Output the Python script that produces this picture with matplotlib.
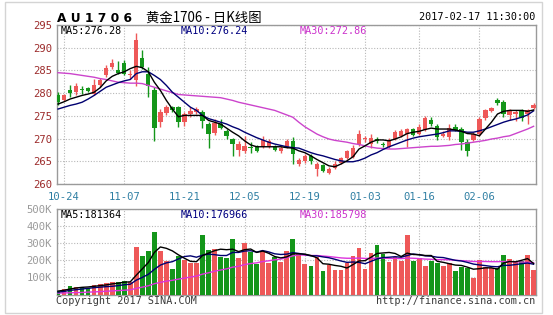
import numpy as np
import pandas as pd
import matplotlib
matplotlib.use("Agg")
import matplotlib.pyplot as plt
from matplotlib.patches import Rectangle

# trading days of AU1706 (Spring Festival + New Year closed)
holidays = ["2017-01-02", "2017-01-27", "2017-01-30", "2017-01-31", "2017-02-01", "2017-02-02"]
days = pd.bdate_range("2016-10-21", "2017-02-17")
days = days[~days.isin(pd.to_datetime(holidays))]
day_labels = [d.strftime("%m-%d") for d in days]

tick_dates = ["10-24", "11-07", "11-21", "12-05", "12-19", "01-03", "01-16", "02-06"]

opens = [279.5, 278.5, 280.7, 280.2, 281.0, 281.1, 279.8, 281.7, 283.9, 285.8,
         285.0, 286.6, 283.9, 283.0, 287.8, 284.3, 280.7, 273.6, 275.6, 276.9,
         276.9, 273.6, 275.3, 275.8, 275.8, 273.3, 271.2, 273.3, 271.6, 269.9,
         267.5, 267.3, 268.1, 268.3, 268.2, 268.4, 268.2, 267.3, 268.2, 269.4,
         264.5, 265.0, 266.2, 263.4, 264.2, 262.5, 263.6, 264.7, 265.7, 266.0,
         268.9, 269.9, 268.9, 270.0, 268.8, 268.2, 269.9, 270.6, 271.1, 272.1,
         271.1, 271.9, 274.1, 272.8, 270.6, 270.4, 272.6, 272.1, 269.2, 269.7,
         271.0, 274.5, 276.0, 278.5, 278.0, 275.1, 275.4, 276.3, 275.4, 276.8]
highs = [280.3, 279.9, 281.7, 282.2, 281.5, 281.4, 283.2, 283.4, 286.1, 287.6,
         287.1, 287.2, 285.0, 293.2, 289.5, 285.8, 281.3, 276.5, 277.4, 277.1,
         277.1, 275.8, 276.9, 276.9, 276.2, 273.6, 274.4, 274.3, 272.0, 270.2,
         269.5, 270.6, 269.2, 268.5, 270.6, 269.8, 268.6, 268.3, 269.8, 270.3,
         265.7, 266.5, 266.5, 264.8, 264.5, 263.7, 265.0, 266.0, 267.5, 268.6,
         271.9, 270.6, 271.0, 270.3, 269.2, 270.1, 271.9, 272.1, 272.3, 272.4,
         273.2, 274.9, 274.7, 273.2, 271.6, 273.2, 273.1, 272.6, 269.9, 271.4,
         274.7, 276.5, 277.0, 279.0, 278.5, 276.5, 276.2, 276.5, 276.5, 277.8]
lows = [277.3, 278.2, 279.1, 279.7, 279.9, 280.2, 279.5, 281.3, 283.5, 285.4,
        284.3, 284.1, 283.2, 281.5, 285.4, 279.1, 269.5, 272.5, 275.1, 275.8,
        272.6, 272.8, 274.8, 275.5, 272.4, 268.0, 270.8, 272.0, 270.0, 266.2,
        266.2, 266.9, 266.9, 267.0, 267.9, 268.0, 267.2, 266.8, 267.9, 264.4,
        264.0, 264.6, 264.5, 261.8, 262.6, 262.3, 263.3, 264.4, 265.4, 265.8,
        268.3, 269.2, 268.0, 269.0, 268.2, 268.0, 269.7, 270.3, 268.2, 270.5,
        270.8, 271.7, 272.8, 269.7, 270.4, 269.7, 271.7, 267.5, 266.2, 269.5,
        270.6, 274.0, 275.8, 277.3, 274.7, 274.0, 273.8, 273.8, 273.2, 276.5]
closes = [278.0, 279.6, 280.0, 281.5, 280.6, 280.5, 281.8, 283.0, 285.6, 286.6,
          284.4, 284.3, 284.2, 291.7, 285.8, 281.5, 272.4, 275.8, 276.9, 276.3,
          273.6, 275.3, 276.0, 276.4, 273.8, 271.0, 273.4, 272.3, 270.6, 268.8,
          268.7, 268.4, 268.0, 267.2, 269.6, 269.4, 267.5, 268.0, 269.5, 266.6,
          265.2, 266.2, 265.1, 264.5, 262.9, 263.4, 264.5, 265.7, 267.2, 268.0,
          271.0, 270.1, 270.1, 269.4, 268.6, 269.5, 271.4, 271.7, 272.1, 270.8,
          272.6, 274.5, 273.2, 270.3, 271.1, 272.3, 271.9, 269.2, 267.3, 271.0,
          274.3, 276.3, 276.8, 277.8, 275.3, 276.0, 275.9, 274.6, 276.2, 277.5]

ma5 = [277.6, 278.1, 278.7, 279.1, 279.5, 279.8, 280.2, 281.2, 282.7, 283.7,
       284.3, 284.7, 285.4, 285.9, 285.6, 284.7, 282.4, 280.6, 278.4, 276.5,
       274.8, 275.1, 275.1, 275.1, 275.1, 274.0, 273.6, 273.2, 272.3, 271.4,
       270.6, 269.5, 268.6, 268.2, 268.2, 268.2, 268.2, 268.2, 268.0, 267.9,
       267.3, 266.9, 266.2, 265.4, 264.7, 264.0, 263.8, 264.4, 265.1, 266.0,
       267.7, 268.4, 269.2, 269.7, 269.7, 269.5, 269.9, 270.4, 271.1, 271.4,
       271.6, 272.0, 272.3, 272.1, 272.1, 272.1, 271.9, 271.6, 271.1, 271.0,
       270.6, 272.1, 273.6, 275.4, 276.0, 276.2, 276.2, 276.2, 276.0, 276.3]
ma10 = [276.5, 276.9, 277.3, 277.6, 278.0, 278.7, 279.5, 280.4, 281.3, 281.8,
        282.3, 282.7, 283.0, 284.3, 284.7, 284.7, 283.9, 283.0, 281.7, 280.2,
        279.1, 278.0, 276.9, 276.2, 275.1, 274.4, 274.0, 273.6, 273.2, 272.6,
        272.1, 271.4, 270.8, 270.2, 269.7, 269.2, 268.8, 268.5, 268.2, 268.0,
        267.9, 267.4, 266.9, 266.5, 266.2, 265.8, 265.4, 265.1, 264.9, 264.9,
        265.2, 265.7, 266.4, 266.9, 267.6, 268.2, 268.7, 269.2, 269.7, 270.1,
        270.4, 270.6, 270.8, 271.0, 271.3, 271.7, 271.7, 271.6, 271.4, 271.4,
        271.7, 272.1, 272.6, 273.1, 273.6, 274.0, 274.3, 274.7, 275.2, 276.1]
ma30 = [284.5, 284.4, 284.3, 284.1, 283.9, 283.7, 283.5, 283.2, 283.0, 282.7,
        282.4, 282.3, 282.2, 282.2, 282.1, 281.7, 281.3, 280.9, 280.5, 280.1,
        279.7, 279.6, 279.5, 279.4, 279.3, 279.2, 279.1, 279.0, 278.7, 278.4,
        278.0, 277.7, 277.4, 277.1, 276.8, 276.5, 276.2, 275.7, 275.2, 274.7,
        273.6, 272.6, 271.8, 271.0, 270.4, 269.9, 269.6, 269.4, 269.2, 268.9,
        268.7, 268.4, 268.1, 267.9, 267.8, 267.7, 267.7, 267.8, 267.9, 268.0,
        268.1, 268.2, 268.3, 268.3, 268.4, 268.5, 268.7, 268.8, 269.0, 269.2,
        269.4, 269.6, 269.9, 270.1, 270.4, 270.6, 271.1, 271.6, 272.1, 272.7]

# volume, thousands of lots
volume = [22, 30, 52, 42, 42, 40, 54, 60, 68, 74,
          74, 78, 74, 280, 226, 256, 368, 256, 197, 150,
          228, 202, 184, 184, 348, 260, 268, 220, 212, 326,
          212, 300, 250, 180, 254, 186, 218, 188, 255, 322,
          236, 178, 168, 222, 136, 170, 142, 145, 183, 226,
          270, 148, 245, 290, 238, 188, 222, 193, 350, 197,
          212, 168, 197, 183, 168, 183, 135, 158, 154, 95,
          203, 163, 154, 154, 232, 208, 193, 198, 230, 143]
vma5 = [20, 25, 32, 38, 42, 44, 48, 52, 56, 62,
        66, 72, 74, 113, 150, 187, 246, 278, 270, 255,
        232, 212, 194, 192, 228, 242, 256, 265, 262, 265,
        251, 262, 266, 246, 254, 241, 222, 214, 220, 238,
        238, 236, 228, 215, 180, 177, 170, 165, 155, 175,
        196, 198, 218, 240, 243, 246, 240, 222, 242, 234,
        233, 228, 228, 194, 188, 180, 172, 170, 160, 148,
        151, 156, 156, 148, 184, 193, 191, 200, 210, 181]
vma10 = [14, 18, 24, 28, 32, 36, 40, 43, 46, 48,
         52, 57, 60, 84, 100, 118, 147, 172, 185, 192,
         208, 222, 226, 218, 230, 236, 233, 228, 228, 246,
         246, 254, 256, 248, 257, 249, 238, 234, 236, 245,
         240, 234, 226, 226, 220, 215, 206, 196, 188, 190,
         188, 180, 194, 208, 216, 218, 221, 218, 228, 237,
         232, 226, 224, 218, 216, 208, 200, 196, 188, 178,
         173, 169, 164, 162, 170, 171, 175, 180, 184, 177]
vma30 = [8, 9, 10, 11, 12, 14, 15, 17, 19, 21,
         23, 25, 27, 36, 43, 51, 63, 71, 78, 83,
         90, 96, 102, 108, 119, 127, 136, 143, 150, 160,
         165, 175, 181, 185, 193, 197, 203, 207, 215, 226,
         232, 230, 228, 228, 225, 222, 218, 214, 212, 212,
         213, 211, 211, 213, 213, 211, 211, 210, 213, 212,
         210, 207, 206, 204, 204, 203, 200, 198, 196, 193,
         193, 193, 192, 192, 193, 193, 191, 190, 188, 186]

price_ticks = [260, 265, 270, 275, 280, 285, 290, 295]
vol_ticks = [100, 200, 300, 400, 500]

UP = "#ee5858"
DOWN = "#14961a"
GRID = "#b8b8b8"
MONO = "DejaVu Sans Mono"

W, H = 553, 315
fig = plt.figure(figsize=(W / 100, H / 100), dpi=100)


def px_axes(l, t, r, b):
    return fig.add_axes([l / W, 1 - b / H, (r - l) / W, (b - t) / H])


def px_text(x, y, s, **kw):
    kw.setdefault("family", MONO)
    kw.setdefault("va", "center")
    fig.text(x / W, 1 - y / H, s, **kw)


ax = px_axes(57, 25, 536, 184)
axv = px_axes(57, 209, 536, 294.5)

x = np.arange(len(days))
o = np.array(opens)
c = np.array(closes)
up = c >= o
cols = np.where(up, UP, DOWN)

# candles
ax.vlines(x, lows, highs, colors=cols, linewidth=1, zorder=3)
body = np.maximum(np.abs(c - o), 0.15)
ax.bar(x, body, bottom=np.minimum(o, c), width=0.72, color=cols, zorder=4, linewidth=0)

ax.plot(x, ma30, color="#cc44cc", lw=1, zorder=5)
ax.plot(x, ma10, color="#000070", lw=1, zorder=5)
ax.plot(x, ma5, color="black", lw=1, zorder=5)

# volume bars
axv.bar(x, volume, width=0.78, color=cols, linewidth=0, zorder=3)
axv.plot(x, vma30, color="#dd33dd", lw=1, zorder=5)
axv.plot(x, vma10, color="#000070", lw=1, zorder=5)
axv.plot(x, vma5, color="black", lw=1, zorder=5)

tick_pos = [day_labels.index(d) for d in tick_dates]

for a in (ax, axv):
    a.set_xlim(-0.17, 79.4)
    a.set_xticks(tick_pos)
    a.grid(True, color=GRID, linestyle=(0, (1, 1.5)), linewidth=0.8, zorder=0)
    a.tick_params(length=0)
    for s in a.spines.values():
        s.set_color("#9a9a9a")
        s.set_linewidth(1)

ax.set_ylim(260, 295)
ax.set_yticks(price_ticks)
ax.set_yticklabels([str(p) for p in price_ticks], family=MONO, fontsize=7.6, color="#9c2b2b")
ax.set_xticklabels(tick_dates, family=MONO, fontsize=7.6, color="#2f7fa3")
ax.tick_params(axis="x", pad=5.5)
ax.tick_params(axis="y", pad=3.5)

axv.set_ylim(0, 500)
axv.set_yticks(vol_ticks)
axv.set_yticklabels([f"{v}K" for v in vol_ticks], family=MONO, fontsize=7.6, color="#9a9a9a")
axv.set_xticklabels([])
axv.tick_params(axis="y", pad=3.5)

# header
px_text(57, 19, "A U 1 7 0 6", family="DejaVu Sans", fontweight="bold", fontsize=8.8)
px_text(146, 17.5, "黄金1706 - 日K线图", family=["Noto Sans CJK SC", "DejaVu Sans"], fontsize=9.6)
px_text(535, 17.5, "2017-02-17 11:30:00", fontsize=7.3, ha="right")

# MA legends
px_text(61, 31.5, "MA5:276.28", fontsize=7.3, color="black")
px_text(181, 31.5, "MA10:276.24", fontsize=7.3, color="#000080")
px_text(300, 31.5, "MA30:272.86", fontsize=7.3, color="#cc33cc")
px_text(61, 214.5, "MA5:181364", fontsize=7.3, color="black")
px_text(181, 214.5, "MA10:176966", fontsize=7.3, color="#000080")
px_text(300, 214.5, "MA30:185798", fontsize=7.3, color="#cc33cc")

# footer
px_text(56, 300.5, "Copyright 2017 SINA.COM", fontsize=7.3, color="#3a3a3a")
px_text(535, 300.5, "http://finance.sina.com.cn", fontsize=7.3, color="#3a3a3a", ha="right")

# outer frame
fig.patches.append(Rectangle((5 / W, 1 - 313 / H), 537 / W, 311 / H, transform=fig.transFigure,
                             fill=False, edgecolor="#d4d4d4", linewidth=1))

fig.savefig("out.png", dpi=100)
